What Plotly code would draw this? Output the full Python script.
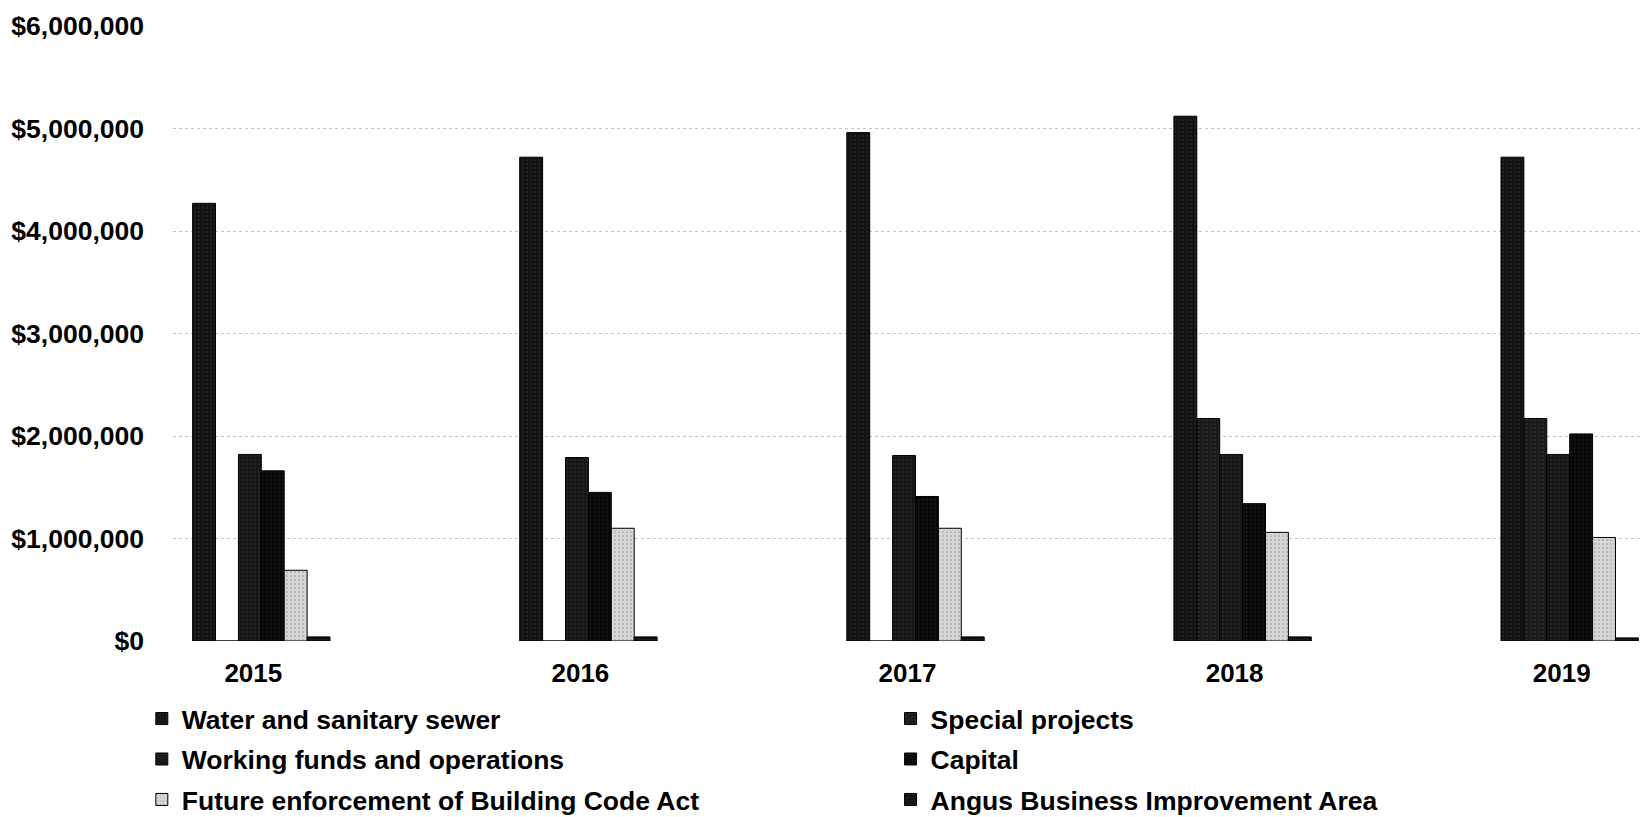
import plotly.graph_objects as go

years = ["2015", "2016", "2017", "2018", "2019"]
series_names = [
    "Water and sanitary sewer",
    "Special projects",
    "Working funds and operations",
    "Capital",
    "Future enforcement of Building Code Act",
    "Angus Business Improvement Area",
]
water = [4270000, 4720000, 4960000, 5120000, 4720000]
special = [0, 0, 0, 2170000, 2170000]
working = [1820000, 1790000, 1810000, 1820000, 1820000]
capital = [1660000, 1450000, 1410000, 1340000, 2020000]
future = [690000, 1100000, 1100000, 1060000, 1010000]
angus = [40000, 40000, 40000, 40000, 30000]

values = [water, special, working, capital, future, angus]
colors = ["#121212", "#1a1a1a", "#161616", "#080808", "#d6d6d6", "#121212"]
pat_fg = ["#3c3c3c", "#444444", "#3c3c3c", "#2a2a2a", "#8c8c8c", "#3a3a3a"]
legend_ids = ["legend", "legend2", "legend", "legend2", "legend", "legend2"]

FONT = "Liberation Sans, Arial, sans-serif"

fig = go.Figure()
for i, (name, vals, col, fg, lg) in enumerate(zip(series_names, values, colors, pat_fg, legend_ids)):
    fig.add_trace(go.Bar(
        x=years, y=vals, name=name,
        marker=dict(color=col, line=dict(color="#000000", width=1),
                    pattern=dict(shape=".", fgcolor=fg, size=4, solidity=0.2)),
        legend=lg, legendgroup="g%d" % i,
    ))

legend_common = dict(
    orientation="v", yanchor="top", xanchor="left",
    font=dict(family=FONT, size=26.5, color="#000", weight="bold"),
    bgcolor="rgba(0,0,0,0)", itemwidth=30, tracegroupgap=3,
)

fig.update_layout(
    width=1650, height=817,
    margin=dict(l=165, r=0, t=18, b=184, autoexpand=False),
    paper_bgcolor="white", plot_bgcolor="white",
    barmode="group", bargap=0.58, bargroupgap=0,
    font=dict(family=FONT, size=26, color="#000"),
    xaxis=dict(range=[-0.27, 4.27], showgrid=False, showline=False, zeroline=False,
               tickfont=dict(family=FONT, size=26, color="#000", weight="bold"),
               ticklabelstandoff=14, ticklabelshift=-8, tickangle=0, automargin=False),
    yaxis=dict(range=[0, 6000000], dtick=1000000, tickprefix="$", tickformat=",",
               showgrid=True, gridcolor="#c4c4c4", griddash="dot", gridwidth=1,
               zeroline=False, showline=False, automargin=False,
               ticklabeloverflow="allow",
               tickfont=dict(family=FONT, size=26.5, color="#000", weight="bold"),
               ticklabelstandoff=28),
    legend=dict(x=-0.021, y=-0.0875, **legend_common),
    legend2=dict(x=0.4832, y=-0.0875, **legend_common),
    showlegend=True,
)

fig.write_html("out.html")
